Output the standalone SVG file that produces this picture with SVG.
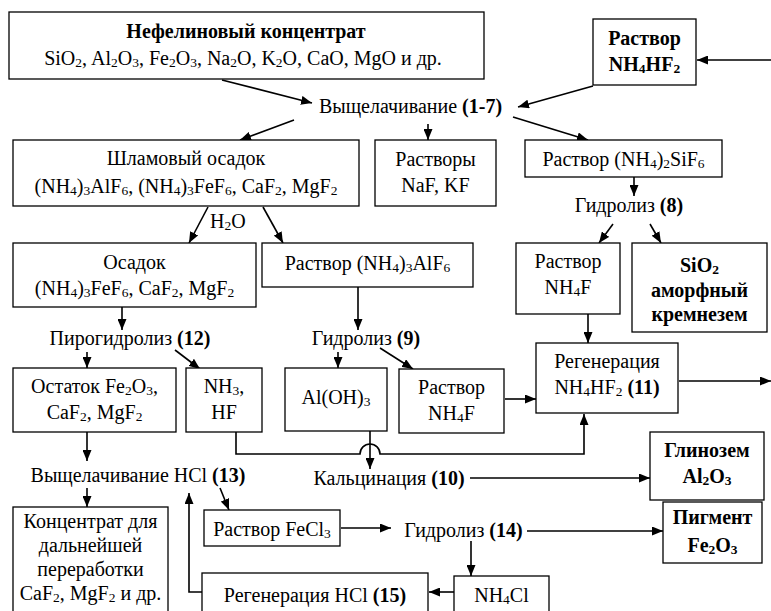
<svg xmlns="http://www.w3.org/2000/svg" width="771" height="611" viewBox="0 0 771 611">
<defs>
<marker id="ah" markerUnits="userSpaceOnUse" markerWidth="11" markerHeight="9" refX="11" refY="4.5" orient="auto">
<path d="M0,0 L11,4.5 L0,9 z" fill="#000" stroke="none"/>
</marker>
</defs>
<rect x="0" y="0" width="771" height="611" fill="#fff"/>

<g id="connectors" stroke="#000" stroke-width="1.6" fill="none" marker-end="url(#ah)">
<line x1="222" y1="80" x2="312" y2="103"/>
<line x1="593" y1="86" x2="518" y2="107"/>
<line x1="771" y1="60" x2="697" y2="60"/>
<line x1="294" y1="120" x2="240" y2="140"/>
<line x1="428" y1="124" x2="428" y2="140"/>
<line x1="513" y1="117" x2="588" y2="140"/>
<line x1="634" y1="177" x2="634" y2="196"/>
<line x1="613" y1="224" x2="599" y2="243"/>
<line x1="650" y1="224" x2="661" y2="243"/>
<line x1="208" y1="207" x2="189" y2="243"/>
<line x1="263" y1="207" x2="283" y2="243"/>
<line x1="122" y1="307" x2="122" y2="330"/>
<line x1="358" y1="287" x2="358" y2="330"/>
<line x1="87" y1="352" x2="87" y2="368"/>
<line x1="175" y1="350" x2="200" y2="369"/>
<line x1="338" y1="352" x2="338" y2="368"/>
<line x1="380" y1="348" x2="413" y2="369"/>
<line x1="588" y1="314" x2="588" y2="343"/>
<line x1="505" y1="399" x2="536" y2="399"/>
<line x1="679" y1="381" x2="771" y2="381"/>
<path d="M236,432 V454 H360 A10,10 0 0 1 380,454 H584 V414"/>
<line x1="370" y1="431" x2="370" y2="469"/>
<line x1="470" y1="478" x2="650" y2="478"/>
<line x1="87" y1="432" x2="87" y2="461"/>
<line x1="87" y1="488" x2="87" y2="507"/>
<line x1="220" y1="488" x2="229" y2="510"/>
<path d="M202,592 H189 V493"/>
<line x1="341" y1="528" x2="391" y2="528"/>
<line x1="527" y1="531" x2="663" y2="531"/>
<line x1="471" y1="541" x2="471" y2="576"/>
<line x1="454" y1="592" x2="429" y2="592"/>
</g>

<g id="nodes" text-anchor="middle" fill="#000">

<g id="nefelin">
<rect x="9" y="12" width="475" height="67" fill="#fff" stroke="#000" stroke-width="1.3"/>
<text style="font-family:'Liberation Serif',serif" font-size="20" x="246" y="38" font-weight="bold">Нефелиновый концентрат</text>
<text style="font-family:'Liberation Serif',serif" font-size="20" x="243" y="65">SiO<tspan font-size="13.5" baseline-shift="-2">2</tspan>, Al<tspan font-size="13.5" baseline-shift="-2">2</tspan>O<tspan font-size="13.5" baseline-shift="-2">3</tspan>, Fe<tspan font-size="13.5" baseline-shift="-2">2</tspan>O<tspan font-size="13.5" baseline-shift="-2">3</tspan>, Na<tspan font-size="13.5" baseline-shift="-2">2</tspan>O, K<tspan font-size="13.5" baseline-shift="-2">2</tspan>O, CaO, MgO и др.</text>
</g>

<g id="nh4hf2">
<rect x="593" y="19" width="103" height="66" fill="#fff" stroke="#000" stroke-width="1.3"/>
<text style="font-family:'Liberation Serif',serif" font-size="20" x="644.5" y="45" font-weight="bold">Раствор</text>
<text style="font-family:'Liberation Serif',serif" font-size="20" x="644.5" y="71" font-weight="bold">NH<tspan font-size="13.5" baseline-shift="-2">4</tspan>HF<tspan font-size="13.5" baseline-shift="-2">2</tspan></text>
</g>

<g id="leach17">
<text style="font-family:'Liberation Serif',serif" font-size="20" x="410.5" y="113">Выщелачивание <tspan font-weight="bold">(1-7)</tspan></text>
</g>

<g id="shlam">
<rect x="13" y="140" width="346" height="66" fill="#fff" stroke="#000" stroke-width="1.3"/>
<text style="font-family:'Liberation Serif',serif" font-size="20" x="186" y="165">Шламовый осадок</text>
<text style="font-family:'Liberation Serif',serif" font-size="20" x="186" y="193">(NH<tspan font-size="13.5" baseline-shift="-2">4</tspan>)<tspan font-size="13.5" baseline-shift="-2">3</tspan>AlF<tspan font-size="13.5" baseline-shift="-2">6</tspan>, (NH<tspan font-size="13.5" baseline-shift="-2">4</tspan>)<tspan font-size="13.5" baseline-shift="-2">3</tspan>FeF<tspan font-size="13.5" baseline-shift="-2">6</tspan>, CaF<tspan font-size="13.5" baseline-shift="-2">2</tspan>, MgF<tspan font-size="13.5" baseline-shift="-2">2</tspan></text>
</g>

<g id="naf">
<rect x="375" y="140" width="121" height="66" fill="#fff" stroke="#000" stroke-width="1.3"/>
<text style="font-family:'Liberation Serif',serif" font-size="20" x="435.5" y="166">Растворы</text>
<text style="font-family:'Liberation Serif',serif" font-size="20" x="435.5" y="192">NaF, KF</text>
</g>

<g id="sif6">
<rect x="525" y="140" width="197" height="37" fill="#fff" stroke="#000" stroke-width="1.3"/>
<text style="font-family:'Liberation Serif',serif" font-size="20" x="623.5" y="166">Раствор (NH<tspan font-size="13.5" baseline-shift="-2">4</tspan>)<tspan font-size="13.5" baseline-shift="-2">2</tspan>SiF<tspan font-size="13.5" baseline-shift="-2">6</tspan></text>
</g>

<g id="h2o">
<text style="font-family:'Liberation Serif',serif" font-size="20" x="210" y="228" text-anchor="start">H<tspan font-size="13.5" baseline-shift="-2">2</tspan>O</text>
</g>

<g id="hydro8">
<text style="font-family:'Liberation Serif',serif" font-size="20" x="629" y="212">Гидролиз <tspan font-weight="bold">(8)</tspan></text>
</g>

<g id="nh4f-right">
<rect x="516" y="243" width="104" height="71" fill="#fff" stroke="#000" stroke-width="1.3"/>
<text style="font-family:'Liberation Serif',serif" font-size="20" x="568" y="268">Раствор</text>
<text style="font-family:'Liberation Serif',serif" font-size="20" x="568" y="294">NH<tspan font-size="13.5" baseline-shift="-2">4</tspan>F</text>
</g>

<g id="sio2">
<rect x="632" y="243" width="135" height="89" fill="#fff" stroke="#000" stroke-width="1.3"/>
<text style="font-family:'Liberation Serif',serif" font-size="20" x="699.5" y="272" font-weight="bold">SiO<tspan font-size="13.5" baseline-shift="-2">2</tspan></text>
<text style="font-family:'Liberation Serif',serif" font-size="20" x="699.5" y="297" font-weight="bold">аморфный</text>
<text style="font-family:'Liberation Serif',serif" font-size="20" x="699.5" y="321" font-weight="bold">кремнезем</text>
</g>

<g id="osadok">
<rect x="13" y="243" width="243" height="64" fill="#fff" stroke="#000" stroke-width="1.3"/>
<text style="font-family:'Liberation Serif',serif" font-size="20" x="134.5" y="269">Осадок</text>
<text style="font-family:'Liberation Serif',serif" font-size="20" x="134.5" y="295">(NH<tspan font-size="13.5" baseline-shift="-2">4</tspan>)<tspan font-size="13.5" baseline-shift="-2">3</tspan>FeF<tspan font-size="13.5" baseline-shift="-2">6</tspan>, CaF<tspan font-size="13.5" baseline-shift="-2">2</tspan>, MgF<tspan font-size="13.5" baseline-shift="-2">2</tspan></text>
</g>

<g id="alf6">
<rect x="262" y="243" width="211" height="44" fill="#fff" stroke="#000" stroke-width="1.3"/>
<text style="font-family:'Liberation Serif',serif" font-size="20" x="367.5" y="270">Раствор (NH<tspan font-size="13.5" baseline-shift="-2">4</tspan>)<tspan font-size="13.5" baseline-shift="-2">3</tspan>AlF<tspan font-size="13.5" baseline-shift="-2">6</tspan></text>
</g>

<g id="pyro12">
<text style="font-family:'Liberation Serif',serif" font-size="20" x="130" y="345">Пирогидролиз <tspan font-weight="bold">(12)</tspan></text>
</g>

<g id="hydro9">
<text style="font-family:'Liberation Serif',serif" font-size="20" x="366" y="345">Гидролиз <tspan font-weight="bold">(9)</tspan></text>
</g>

<g id="ostatok">
<rect x="13" y="368" width="163" height="64" fill="#fff" stroke="#000" stroke-width="1.3"/>
<text style="font-family:'Liberation Serif',serif" font-size="20" x="94.5" y="393">Остаток Fe<tspan font-size="13.5" baseline-shift="-2">2</tspan>O<tspan font-size="13.5" baseline-shift="-2">3</tspan>,</text>
<text style="font-family:'Liberation Serif',serif" font-size="20" x="94.5" y="419">CaF<tspan font-size="13.5" baseline-shift="-2">2</tspan>, MgF<tspan font-size="13.5" baseline-shift="-2">2</tspan></text>
</g>

<g id="nh3hf">
<rect x="186" y="368" width="76" height="64" fill="#fff" stroke="#000" stroke-width="1.3"/>
<text style="font-family:'Liberation Serif',serif" font-size="20" x="224" y="393">NH<tspan font-size="13.5" baseline-shift="-2">3</tspan>,</text>
<text style="font-family:'Liberation Serif',serif" font-size="20" x="224" y="419">HF</text>
</g>

<g id="aloh3">
<rect x="285" y="368" width="102" height="63" fill="#fff" stroke="#000" stroke-width="1.3"/>
<text style="font-family:'Liberation Serif',serif" font-size="20" x="336" y="404">Al(OH)<tspan font-size="13.5" baseline-shift="-2">3</tspan></text>
</g>

<g id="nh4f-mid">
<rect x="399" y="369" width="105" height="64" fill="#fff" stroke="#000" stroke-width="1.3"/>
<text style="font-family:'Liberation Serif',serif" font-size="20" x="451.5" y="394">Раствор</text>
<text style="font-family:'Liberation Serif',serif" font-size="20" x="451.5" y="420">NH<tspan font-size="13.5" baseline-shift="-2">4</tspan>F</text>
</g>

<g id="regen11">
<rect x="536" y="343" width="142" height="70" fill="#fff" stroke="#000" stroke-width="1.3"/>
<text style="font-family:'Liberation Serif',serif" font-size="20" x="607" y="368">Регенерация</text>
<text style="font-family:'Liberation Serif',serif" font-size="20" x="607" y="394">NH<tspan font-size="13.5" baseline-shift="-2">4</tspan>HF<tspan font-size="13.5" baseline-shift="-2">2</tspan> <tspan font-weight="bold">(11)</tspan></text>
</g>

<g id="leach13">
<text style="font-family:'Liberation Serif',serif" font-size="20" x="138" y="482">Выщелачивание HCl <tspan font-weight="bold">(13)</tspan></text>
</g>

<g id="calc10">
<text style="font-family:'Liberation Serif',serif" font-size="20" x="389" y="485">Кальцинация <tspan font-weight="bold">(10)</tspan></text>
</g>

<g id="glinozem">
<rect x="650" y="432" width="114" height="68" fill="#fff" stroke="#000" stroke-width="1.3"/>
<text style="font-family:'Liberation Serif',serif" font-size="20" x="707" y="457" font-weight="bold">Глинозем</text>
<text style="font-family:'Liberation Serif',serif" font-size="20" x="707" y="483" font-weight="bold">Al<tspan font-size="13.5" baseline-shift="-2">2</tspan>O<tspan font-size="13.5" baseline-shift="-2">3</tspan></text>
</g>

<g id="koncentrat">
<rect x="13" y="507" width="155" height="113" fill="#fff" stroke="#000" stroke-width="1.3"/>
<text style="font-family:'Liberation Serif',serif" font-size="20" x="90.5" y="528">Концентрат для</text>
<text style="font-family:'Liberation Serif',serif" font-size="20" x="90.5" y="552">дальнейшей</text>
<text style="font-family:'Liberation Serif',serif" font-size="20" x="90.5" y="576">переработки</text>
<text style="font-family:'Liberation Serif',serif" font-size="20" x="90.5" y="600">CaF<tspan font-size="13.5" baseline-shift="-2">2</tspan>, MgF<tspan font-size="13.5" baseline-shift="-2">2</tspan> и др.</text>
</g>

<g id="fecl3">
<rect x="204" y="510" width="136" height="36" fill="#fff" stroke="#000" stroke-width="1.3"/>
<text style="font-family:'Liberation Serif',serif" font-size="20" x="272" y="536">Раствор FeCl<tspan font-size="13.5" baseline-shift="-2">3</tspan></text>
</g>

<g id="hydro14">
<text style="font-family:'Liberation Serif',serif" font-size="20" x="463.5" y="537">Гидролиз <tspan font-weight="bold">(14)</tspan></text>
</g>

<g id="pigment">
<rect x="663" y="502" width="99" height="61" fill="#fff" stroke="#000" stroke-width="1.3"/>
<text style="font-family:'Liberation Serif',serif" font-size="20" x="712.5" y="524" font-weight="bold">Пигмент</text>
<text style="font-family:'Liberation Serif',serif" font-size="20" x="712.5" y="552" font-weight="bold">Fe<tspan font-size="13.5" baseline-shift="-2">2</tspan>O<tspan font-size="13.5" baseline-shift="-2">3</tspan></text>
</g>

<g id="nh4cl">
<rect x="454" y="576" width="95" height="44" fill="#fff" stroke="#000" stroke-width="1.3"/>
<text style="font-family:'Liberation Serif',serif" font-size="20" x="501.5" y="602">NH<tspan font-size="13.5" baseline-shift="-2">4</tspan>Cl</text>
</g>

<g id="regen15">
<rect x="202" y="573" width="226" height="47" fill="#fff" stroke="#000" stroke-width="1.3"/>
<text style="font-family:'Liberation Serif',serif" font-size="20" x="315" y="602">Регенерация HCl <tspan font-weight="bold">(15)</tspan></text>
</g>

</g>
</svg>
